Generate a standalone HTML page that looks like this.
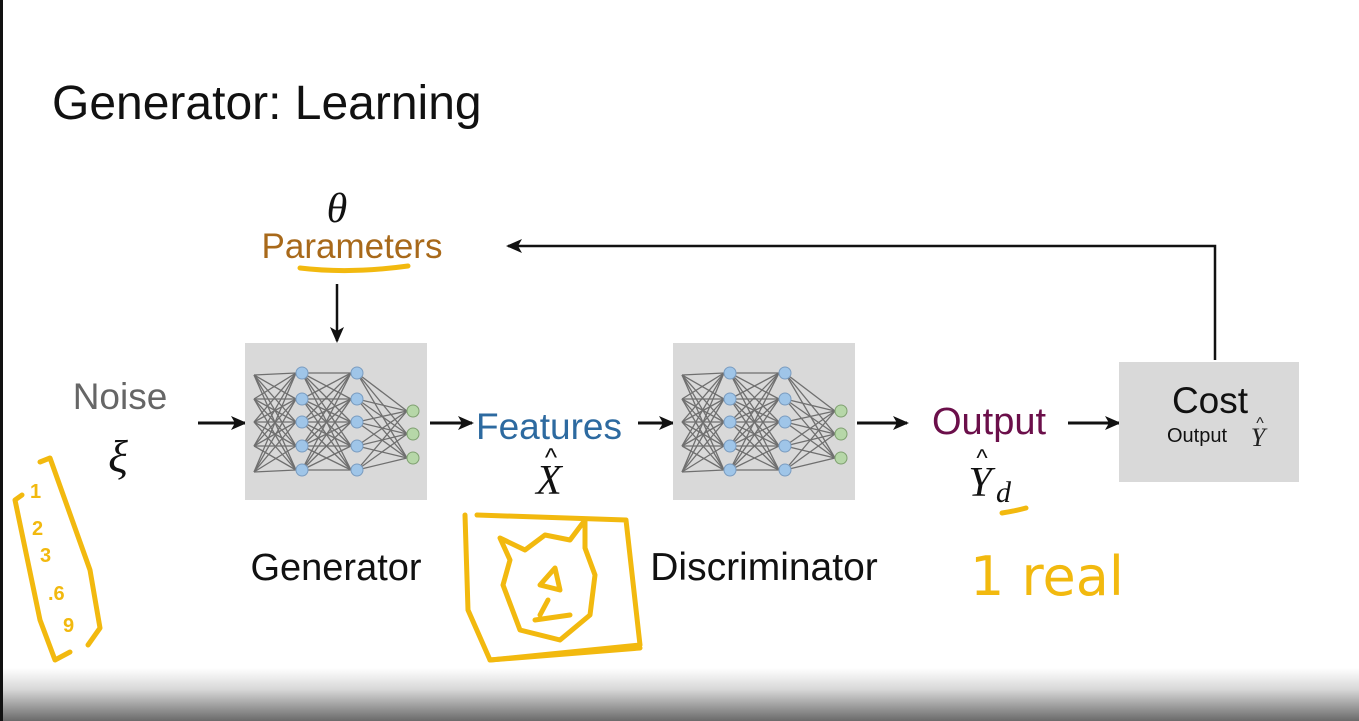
<!DOCTYPE html>
<html><head><meta charset="utf-8"><style>
html,body{margin:0;padding:0;width:1359px;height:721px;overflow:hidden;background:#fff;font-family:"Liberation Sans","DejaVu Sans",sans-serif}
#bar{position:absolute;left:0;top:668px;width:1359px;height:53px;background:linear-gradient(#fff,#d8d8d8 40%,#6a6a6a)}
#lb{position:absolute;left:0;top:0;width:3px;height:721px;background:#111}
</style></head><body>
<svg width="1359" height="721" style="position:absolute;left:0;top:0" font-family="Liberation Sans, DejaVu Sans, sans-serif">
<defs><marker id="ah" markerWidth="16" markerHeight="14" refX="14" refY="7" orient="auto" markerUnits="userSpaceOnUse"><path d="M0,0 L16,7 L0,14 L4,7z" fill="#111"/></marker></defs>
<text x="52" y="119" font-size="48" fill="#111">Generator: Learning</text>
<text x="337" y="222" font-size="42" fill="#111" font-style="italic" font-family="Liberation Serif, serif" text-anchor="middle">θ</text>
<text x="352" y="258" font-size="35" fill="#a8691a" text-anchor="middle">Parameters</text>
<path d="M300,268 Q350,274 408,266" stroke="#f2b90f" stroke-width="5" fill="none" stroke-linecap="round"/>
<line x1="337" y1="284" x2="337" y2="341" stroke="#111" stroke-width="2.5" marker-end="url(#ah)"/>
<polyline points="1215,360 1215,246 508,246" stroke="#111" stroke-width="2.5" fill="none" marker-end="url(#ah)"/>
<text x="120" y="409" font-size="37" fill="#666" text-anchor="middle">Noise</text>
<text x="118" y="472" font-size="46" fill="#111" font-style="italic" font-family="Liberation Serif, serif" text-anchor="middle">ξ</text>
<line x1="198" y1="423" x2="245" y2="423" stroke="#111" stroke-width="3" marker-end="url(#ah)"/>
<rect x="245" y="343" width="182" height="157" fill="#d9d9d9"/>
<line x1="430" y1="423" x2="472" y2="423" stroke="#111" stroke-width="3" marker-end="url(#ah)"/>
<text x="549" y="439" font-size="37" fill="#2d6aa0" text-anchor="middle">Features</text>
<text x="549" y="494" font-size="42" fill="#111" font-style="italic" font-family="Liberation Serif, serif" text-anchor="middle">X</text>
<text x="551" y="466" font-size="26" fill="#111" text-anchor="middle">^</text>
<line x1="638" y1="423" x2="673" y2="423" stroke="#111" stroke-width="3" marker-end="url(#ah)"/>
<rect x="673" y="343" width="182" height="157" fill="#d9d9d9"/>
<line x1="857" y1="423" x2="907" y2="423" stroke="#111" stroke-width="3" marker-end="url(#ah)"/>
<text x="989" y="434" font-size="38" fill="#6b0f4a" text-anchor="middle">Output</text>
<text x="980" y="496" font-size="42" fill="#111" font-style="italic" font-family="Liberation Serif, serif" text-anchor="middle">Y</text>
<text x="982" y="466" font-size="24" fill="#111" text-anchor="middle">^</text>
<text x="996" y="502" font-size="30" fill="#111" font-style="italic" font-family="Liberation Serif, serif">d</text>
<path d="M1002,513 Q1015,511 1026,508" stroke="#f2b90f" stroke-width="5" fill="none" stroke-linecap="round"/>
<line x1="1068" y1="423" x2="1119" y2="423" stroke="#111" stroke-width="3" marker-end="url(#ah)"/>
<rect x="1119" y="362" width="180" height="120" fill="#d9d9d9"/>
<text x="1210" y="413" font-size="37" fill="#111" text-anchor="middle">Cost</text>
<text x="1197" y="442" font-size="20" fill="#111" text-anchor="middle">Output</text>
<text x="1258" y="446" font-size="26" fill="#222" font-style="italic" font-family="Liberation Serif, serif" text-anchor="middle">Y</text>
<text x="1260" y="428" font-size="16" fill="#222" text-anchor="middle">^</text>
<text x="336" y="580" font-size="38" fill="#111" text-anchor="middle">Generator</text>
<text x="764" y="580" font-size="39" fill="#111" text-anchor="middle">Discriminator</text>
<g stroke="#f2b90f" stroke-width="5" fill="none" stroke-linecap="round" stroke-linejoin="round">
<path d="M22,495 L15,500 L40,620 L55,660 L70,652"/>
<path d="M40,462 L50,458 L90,570 L100,628 L88,645"/>
<path d="M465,515 L468,610 L490,660 L640,645 L626,520 L477,515"/>
<path d="M490,660 L640,648"/>
<path d="M500,538 L510,560 L503,585 L520,630 L560,640 L590,615 L595,575 L585,548 L585,520 L570,540 L545,535 L525,550 Z"/>
<path d="M540,585 L555,568 L560,590 Z M548,600 L540,615 M535,620 L570,615"/>
</g>
<g fill="#f2b90f" font-size="20" font-weight="bold">
<text x="30" y="498">1</text><text x="32" y="535">2</text><text x="40" y="562">3</text><text x="48" y="600">.6</text><text x="63" y="632">9</text>
</g>
<text x="970" y="595" font-size="54" fill="#f2b90f" font-family="DejaVu Sans, sans-serif">1 real</text>
<g id="net"></g>
</svg>
<div id="bar"></div><div id="lb"></div>
<script>
var g=document.getElementById('net'),s='';
function net(ox){var inp=[375,399,422,446,472].map(function(y){return[254+ox,y]});
var l1=[373,399,422,446,470].map(function(y){return[302+ox,y]});
var l2=l1.map(function(p){return[357+ox,p[1]]});
var o=[411,434,458].map(function(y){return[413+ox,y]});
function con(a,b){a.forEach(function(p){b.forEach(function(q){s+='<line x1="'+p[0]+'" y1="'+p[1]+'" x2="'+(q[0]-6)+'" y2="'+q[1]+'" stroke="#6f6f6f" stroke-width="1.3"/>'})})}
con(inp,l1);con(l1,l2);con(l2,o);
l1.concat(l2).forEach(function(p){s+='<circle cx="'+p[0]+'" cy="'+p[1]+'" r="6" fill="#9fc5e8" stroke="#7a9cc0"/>'});
o.forEach(function(p){s+='<circle cx="'+p[0]+'" cy="'+p[1]+'" r="6" fill="#b6d7a8" stroke="#7fa070"/>'});}
net(0);net(428);g.innerHTML=s;
</script>
</body></html>
